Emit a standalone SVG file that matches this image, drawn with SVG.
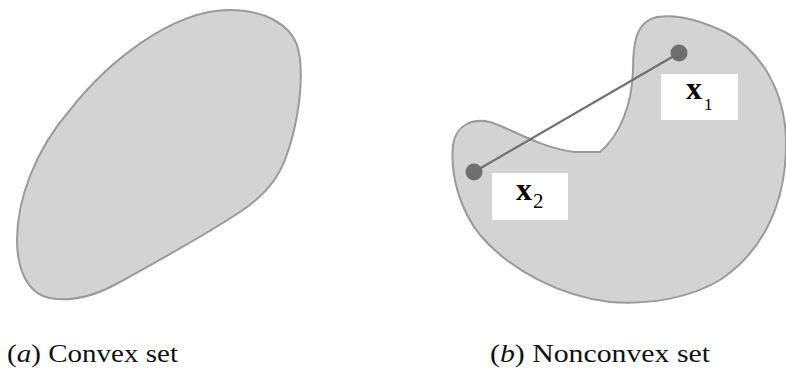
<svg xmlns="http://www.w3.org/2000/svg" width="786" height="370" viewBox="0 0 786 370">
<style>
.set{fill:#d3d3d3;stroke:#9a9a9a;stroke-width:2}
.box{fill:#ffffff;stroke:none}
.dot{fill:#6f6f6f}
.seg{stroke:#6f6f6f;stroke-width:2.2;fill:none}
.lab{font-family:"Liberation Serif","Times New Roman",serif;fill:#000}
.cap{font-family:"Liberation Serif","Times New Roman",serif;font-size:26px;fill:#111}
</style>
<rect width="786" height="370" fill="#ffffff"/>
<g id="convex-set">
<path class="set" d="M230,10 C265,10 290,25 297,45 C305,70 300,120 285,160 C275,185 258,200 240,212 C205,235 160,260 120,282 C95,296 70,302 50,298 C28,294 17,270 17,240 C17,200 35,150 70,110 C105,65 170,10 230,10 Z"/>
</g>
<g id="nonconvex-set">
<path class="set" d="M657,17 C675,14 700,20 725,32 C760,50 785,90 786,140 C787,200 765,250 720,280 C690,298 650,305 610,302 C560,296 510,270 480,235 C460,210 450,175 453,145 C456,125 472,118 490,122 C510,128 540,148 575,152 L600,152 C620,135 632,105 633,70 C633,45 635,22 657,17 Z"/>
</g>
<g id="connectors">
<line class="seg" x1="474" y1="172" x2="679" y2="53"/>
</g>
<g id="point-x1">
<circle class="dot" cx="679" cy="53" r="8.5"/>
<rect class="box" x="661" y="74" width="77" height="46"/>
<text class="lab" x="686" y="99" font-size="32" font-weight="bold">x</text>
<text class="lab" x="704" y="110" font-size="17">1</text>
</g>
<g id="point-x2">
<circle class="dot" cx="474" cy="172" r="8.5"/>
<rect class="box" x="492" y="173" width="76" height="47"/>
<text class="lab" x="516" y="200" font-size="32" font-weight="bold">x</text>
<text class="lab" x="533" y="208" font-size="21">2</text>
</g>
<g id="caption-a">
<text class="cap" x="7" y="362" textLength="171" lengthAdjust="spacingAndGlyphs">(<tspan font-style="italic">a</tspan>) Convex set</text>
</g>
<g id="caption-b">
<text class="cap" x="490" y="362" textLength="220" lengthAdjust="spacingAndGlyphs">(<tspan font-style="italic">b</tspan>) Nonconvex set</text>
</g>
</svg>
